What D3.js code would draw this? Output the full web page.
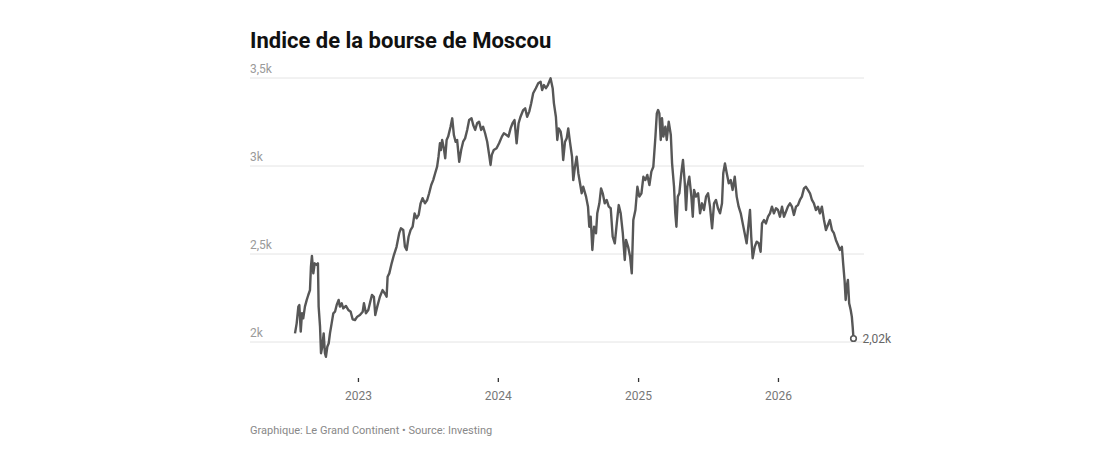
<!doctype html>
<html>
  <head>
    <meta charset="utf-8">
    <title>Indice de la bourse de Moscou</title>
    <script src="https://cdn.jsdelivr.net/npm/d3@7"></script>
    <style>
      body {
        margin: 0;
        background: #fff;
        font-family: Roboto, "Noto Sans", sans-serif;
      }
    </style>
  </head>
  <body>
    <div id="chart"></div>
  <script>
    // dates as decimal years
    var dates = [
      2022.550, 2022.562, 2022.574, 2022.581, 2022.591, 2022.600, 2022.609, 2022.621, 2022.634, 2022.645,
      2022.657, 2022.664, 2022.671, 2022.681, 2022.691, 2022.705, 2022.714, 2022.719, 2022.729, 2022.736,
      2022.745, 2022.755, 2022.764, 2022.771, 2022.781, 2022.791, 2022.800, 2022.812, 2022.824, 2022.836,
      2022.848, 2022.862, 2022.871, 2022.884, 2022.895, 2022.914, 2022.931, 2022.948, 2022.962, 2022.979,
      2022.995, 2023.014, 2023.034, 2023.043, 2023.057, 2023.074, 2023.091, 2023.100, 2023.114, 2023.124,
      2023.138, 2023.157, 2023.176, 2023.191, 2023.205, 2023.212, 2023.224, 2023.241, 2023.257, 2023.276,
      2023.295, 2023.307, 2023.324, 2023.336, 2023.348, 2023.362, 2023.376, 2023.391, 2023.405, 2023.419,
      2023.434, 2023.448, 2023.462, 2023.479, 2023.495, 2023.509, 2023.524, 2023.538, 2023.552, 2023.566,
      2023.576, 2023.586, 2023.593, 2023.602, 2023.614, 2023.624, 2023.634, 2023.645, 2023.662, 2023.674,
      2023.686, 2023.698, 2023.709, 2023.724, 2023.738, 2023.752, 2023.766, 2023.781, 2023.795, 2023.812,
      2023.824, 2023.838, 2023.852, 2023.866, 2023.881, 2023.895, 2023.909, 2023.924, 2023.938, 2023.948,
      2023.957, 2023.971, 2023.991, 2024.009, 2024.029, 2024.043, 2024.062, 2024.076, 2024.091, 2024.105,
      2024.119, 2024.134, 2024.148, 2024.162, 2024.181, 2024.195, 2024.209, 2024.224, 2024.238, 2024.252,
      2024.271, 2024.288, 2024.305, 2024.316, 2024.329, 2024.343, 2024.357, 2024.376, 2024.391, 2024.400,
      2024.414, 2024.424, 2024.434, 2024.448, 2024.457, 2024.466, 2024.479, 2024.491, 2024.502, 2024.514,
      2024.529, 2024.538, 2024.550, 2024.562, 2024.574, 2024.586, 2024.598, 2024.609, 2024.629, 2024.643,
      2024.652, 2024.662, 2024.674, 2024.686, 2024.700, 2024.709, 2024.724, 2024.736, 2024.748, 2024.762,
      2024.776, 2024.791, 2024.805, 2024.819, 2024.834, 2024.848, 2024.862, 2024.876, 2024.891, 2024.905,
      2024.914, 2024.929, 2024.943, 2024.955, 2024.966, 2024.981, 2024.995, 2025.009, 2025.024, 2025.038,
      2025.052, 2025.066, 2025.081, 2025.095, 2025.109, 2025.124, 2025.134, 2025.143, 2025.152, 2025.162,
      2025.171, 2025.181, 2025.195, 2025.205, 2025.219, 2025.234, 2025.243, 2025.257, 2025.266, 2025.274,
      2025.284, 2025.295, 2025.309, 2025.321, 2025.334, 2025.343, 2025.352, 2025.366, 2025.381, 2025.391,
      2025.400, 2025.414, 2025.429, 2025.443, 2025.457, 2025.471, 2025.486, 2025.500, 2025.514, 2025.529,
      2025.543, 2025.557, 2025.571, 2025.586, 2025.600, 2025.609, 2025.621, 2025.634, 2025.648, 2025.662,
      2025.676, 2025.691, 2025.705, 2025.719, 2025.734, 2025.748, 2025.762, 2025.776, 2025.788, 2025.800,
      2025.809, 2025.819, 2025.834, 2025.848, 2025.862, 2025.876, 2025.886, 2025.900, 2025.914, 2025.929,
      2025.943, 2025.957, 2025.971, 2025.986, 2026.000, 2026.014, 2026.029, 2026.043, 2026.057, 2026.071,
      2026.086, 2026.100, 2026.114, 2026.129, 2026.143, 2026.157, 2026.171, 2026.186, 2026.200, 2026.214,
      2026.229, 2026.243, 2026.257, 2026.271, 2026.286, 2026.300, 2026.314, 2026.329, 2026.343, 2026.357,
      2026.371, 2026.386, 2026.400, 2026.414, 2026.429, 2026.443, 2026.457, 2026.466, 2026.476, 2026.484,
      2026.491, 2026.500, 2026.509, 2026.520, 2026.528, 2026.534, 2026.540
    ];

    var values = [
      2049, 2106, 2201, 2210, 2059, 2163, 2135, 2201, 2239, 2267,
      2295, 2428, 2489, 2390, 2447, 2438, 2447, 2201, 2087, 1936,
      1973, 2049, 1936, 1916, 1973, 1993, 2049, 2106, 2163, 2172,
      2210, 2239, 2201, 2220, 2191, 2205, 2182, 2172, 2129, 2125,
      2144, 2153, 2172, 2220, 2163, 2182, 2239, 2267, 2257, 2153,
      2201, 2257, 2295, 2277, 2257, 2371, 2390, 2447, 2494, 2541,
      2618, 2646, 2636, 2541, 2523, 2598, 2636, 2655, 2731, 2703,
      2722, 2788, 2817, 2788, 2807, 2845, 2892, 2920, 2959, 2996,
      3053, 3129, 3091, 3148, 3101, 3044, 3148, 3167, 3223, 3271,
      3176, 3138, 3148, 3024, 3091, 3138, 3157, 3205, 3261, 3271,
      3233, 3205, 3243, 3252, 3205, 3223, 3186, 3138, 3063, 3006,
      3063, 3091, 3101, 3129, 3167, 3186, 3176, 3167, 3214, 3243,
      3261, 3129, 3243, 3280, 3318, 3328, 3280, 3309, 3356, 3413,
      3442, 3470, 3479, 3432, 3460, 3442, 3460, 3498, 3442, 3356,
      3280, 3148, 3214, 3195, 3148, 3034, 3138, 3157, 3214, 3138,
      3053, 2920, 2996, 3053, 2959, 2902, 2845, 2882, 2826, 2769,
      2655, 2712, 2523, 2655, 2618, 2731, 2788, 2873, 2845, 2788,
      2807, 2769, 2760, 2598, 2561, 2674, 2778, 2731, 2618, 2466,
      2580, 2541, 2485, 2390, 2693, 2750, 2882, 2826, 2845, 2939,
      2920, 2949, 2892, 2968, 2996, 3167, 3299, 3318, 3299, 3148,
      3271, 3167, 3223, 3148, 3252, 3176, 3015, 2882, 2731, 2655,
      2826, 2845, 2959, 3034, 2902, 2750, 2882, 2939, 2826, 2712,
      2864, 2826, 2845, 2731, 2788, 2750, 2826, 2845, 2769, 2646,
      2788, 2807, 2760, 2731, 2788, 2959, 3015, 2959, 2902, 2920,
      2864, 2939, 2826, 2769, 2731, 2674, 2618, 2561, 2655, 2750,
      2598, 2476, 2541, 2570, 2561, 2513, 2674, 2693, 2674, 2712,
      2731, 2769, 2731, 2760, 2750, 2712, 2769, 2712, 2740, 2769,
      2788, 2769, 2722, 2769, 2778, 2807, 2826, 2873, 2882, 2864,
      2845, 2807, 2788, 2750, 2769, 2731, 2769, 2693, 2636, 2665,
      2693, 2636, 2618, 2580, 2551, 2523, 2541, 2447, 2352, 2239,
      2314, 2352, 2220, 2182, 2144, 2087, 2020
    ];

    var yTicks = [2000, 2500, 3000, 3500];
    var yTickLabels = ["2k", "2,5k", "3k", "3,5k"];
    var xTickYears = [2023, 2024, 2025, 2026];
    var lastLabel = "2,02k";

    var title = "Indice de la bourse de Moscou";
    var footer = "Graphique: Le Grand Continent \u2022 Source: Investing";

    var width = 1103,
      height = 470;

    function yearToDate(t) {
      var y = Math.floor(t);
      var start = new Date(y, 0, 1).getTime();
      var end = new Date(y + 1, 0, 1).getTime();
      return new Date(start + (t - y) * (end - start));
    }

    var data = dates.map(function(t, i) {
      return { date: yearToDate(t), value: values[i] };
    });

    var svg = d3.select("#chart")
                .append("svg")
                .attr("width", width)
                .attr("height", height);

    var x = d3.scaleTime()
      .domain(d3.extent(data, function(d) { return d.date; }))
      .range([295, 853.5]);

    var y = d3.scaleLinear()
      .domain([2000, 3500])
      .range([342, 78]);

    // title
    svg.append("text")
      .attr("x", 250)
      .attr("y", 48)
      .attr("font-size", 22)
      .attr("font-weight", 700)
      .attr("fill", "#111")
      .text(title);

    // grid + y labels
    var grid = svg.append("g");
    grid.selectAll("line")
      .data(yTicks)
      .enter()
      .append("line")
      .attr("x1", 250)
      .attr("x2", 864)
      .attr("y1", function(d) { return y(d); })
      .attr("y2", function(d) { return y(d); })
      .attr("stroke", "#e4e4e4")
      .attr("stroke-width", 1);

    grid.selectAll("text")
      .data(yTicks)
      .enter()
      .append("text")
      .attr("x", 250)
      .attr("y", function(d) { return y(d) - 5; })
      .attr("font-size", 12)
      .attr("fill", "#9a9a9a")
      .text(function(d, i) { return yTickLabels[i]; });

    // x axis
    var xAxis = d3.axisBottom(x)
      .tickValues(xTickYears.map(function(yr) { return new Date(yr, 0, 1); }))
      .tickFormat(d3.timeFormat("%Y"))
      .tickSize(4)
      .tickPadding(9.5);

    var gx = svg.append("g")
      .attr("transform", "translate(0,378)")
      .call(xAxis);

    gx.select(".domain").remove();
    gx.selectAll(".tick line")
      .attr("stroke", "#333")
      .attr("stroke-width", 1.3);
    gx.selectAll(".tick text")
      .attr("font-family", "Roboto, sans-serif")
      .attr("font-size", 12)
      .attr("fill", "#777");

    // the line
    var line = d3.line()
      .x(function(d) { return x(d.date); })
      .y(function(d) { return y(d.value); });

    svg.append("path")
      .datum(data)
      .attr("d", line)
      .attr("fill", "none")
      .attr("stroke", "#575757")
      .attr("stroke-width", 2.4)
      .attr("stroke-linejoin", "round");

    // last value marker
    var last = data[data.length - 1];
    svg.append("circle")
      .attr("cx", x(last.date))
      .attr("cy", y(last.value))
      .attr("r", 2.8)
      .attr("fill", "#fff")
      .attr("stroke", "#575757")
      .attr("stroke-width", 1.6);

    svg.append("text")
      .attr("x", x(last.date) + 9)
      .attr("y", y(last.value))
      .attr("dy", "0.35em")
      .attr("font-size", 12)
      .attr("fill", "#666")
      .text(lastLabel);

    // footer
    svg.append("text")
      .attr("x", 250)
      .attr("y", 434)
      .attr("font-size", 11)
      .attr("fill", "#888")
      .text(footer);
  </script>
  </body>
</html>
